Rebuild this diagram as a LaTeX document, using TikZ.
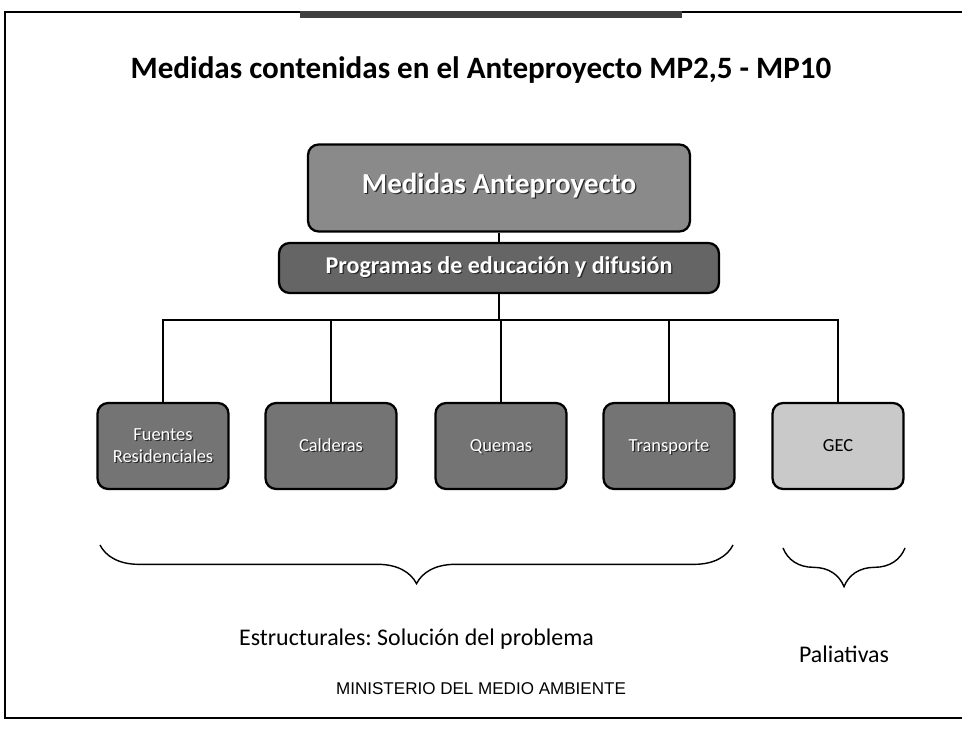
\documentclass[tikz,border=0pt]{standalone}
\usepackage{fontspec}
\setmainfont{Carlito}
\newfontfamily\arialfont{Liberation Sans}
\frenchspacing
\usepackage{tikz}
\usetikzlibrary{arrows.meta}
\usetikzlibrary{decorations.pathreplacing}
\definecolor{midgray}{HTML}{8A8A8A}
\definecolor{darkgray}{HTML}{656565}
\definecolor{boxgray}{HTML}{747474}
\definecolor{lightgray}{HTML}{C9C9C9}
\newcommand{\shtext}[1]{\makebox[0pt][l]{\raisebox{-0.7pt}{\hspace{0.7pt}\textcolor{black!85}{#1}}}#1}

\begin{document}
\begin{tikzpicture}[x=0.02cm, y=-0.02cm,
                main/.style = {draw, line width=1.3pt, rounded corners=6pt, text=white, align=center, text height=1.6ex, text depth=0.4ex},
                top/.style = {main, fill=midgray, minimum width=7.64cm, minimum height=1.74cm, font=\fontsize{16.5}{19}\selectfont\bfseries},
                prog/.style = {main, fill=darkgray, minimum width=8.8cm, minimum height=1cm, font=\fontsize{13.7}{16}\selectfont\bfseries},
                leaf/.style = {main, fill=boxgray, minimum width=2.62cm, minimum height=1.72cm, font=\fontsize{10.5}{12.5}\selectfont},
                brace/.style = {decorate, decoration={brace, mirror, amplitude=22pt}, line width=0.8pt}]
                \useasboundingbox (0,0) rectangle (962,729);
                \draw[line width=1pt] (962,12) -- (5,12) -- (5,718) -- (962,718);
                \fill[black!75] (300,11) rectangle (682,18);
                \node (0) at (481,70) {\fontsize{17.7}{21}\selectfont\bfseries Medidas contenidas en el Anteproyecto MP2,5 - MP10};
                \node[top] (1) at (499,188) {\shtext{Medidas Anteproyecto}};
                \node[prog] (2) at (499,268) {\shtext{Programas de educación y difusión}};
                \coordinate (j) at (499,320);
                \node[leaf, text height=, text depth=] (3) at (163,446) {\shtext{Fuentes}\\\shtext{Residenciales}};
                \node[leaf] (4) at (331,446) {\shtext{Calderas}};
                \node[leaf] (5) at (501,446) {\shtext{Quemas}};
                \node[leaf] (6) at (669,446) {\shtext{Transporte}};
                \node[leaf, fill=lightgray, text=black] (7) at (838,446) {GEC};
                \path[line width=1.2pt] (1) edge (2);
                \path[line width=1.2pt] (2) edge (j);
                \draw[line width=1.2pt] (3) |- (j);
                \draw[line width=1.2pt] (4) |- (j);
                \draw[line width=1.2pt] (5) |- (j);
                \draw[line width=1.2pt] (6) |- (j);
                \draw[line width=1.2pt] (7) |- (j);
                \coordinate (b1) at (100,545);
                \coordinate (b2) at (733,545);
                \coordinate (b3) at (783,548);
                \coordinate (b4) at (905,548);
                \draw[brace] (b1) -- (b2) node[midway, below=44pt, font=\fontsize{13.6}{16}\selectfont] (8) {Estructurales: Solución del problema};
                \draw[brace] (b3) -- (b4) node[midway, below=52pt, font=\fontsize{13.6}{16}\selectfont] (9) {Paliativas};
                \node (10) at (481,689) {\arialfont\fontsize{9.7}{11}\selectfont MINISTERIO DEL MEDIO AMBIENTE};
            \end{tikzpicture}
\end{document}
